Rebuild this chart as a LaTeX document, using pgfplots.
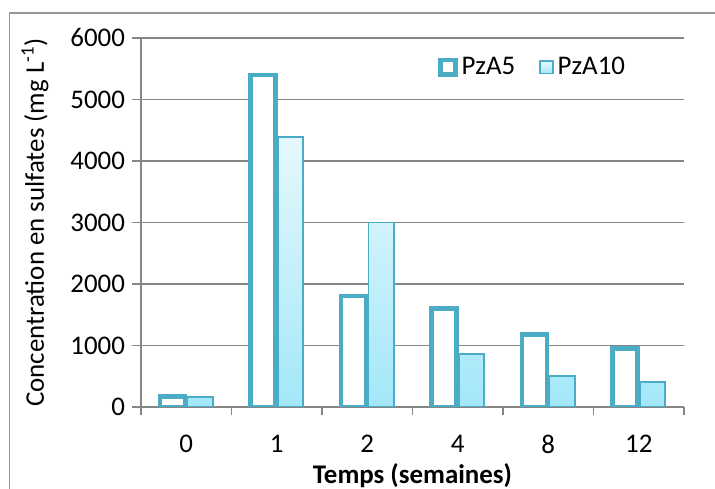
\documentclass[border=0pt]{standalone}
\usepackage{fontspec}
\setmainfont{Carlito}
\usepackage{pgfplots}
\pgfplotsset{compat=1.18}
\definecolor{aqua}{RGB}{75,172,198}
\definecolor{gridgray}{RGB}{134,134,134}
\definecolor{frame}{RGB}{150,150,150}
\definecolor{lighttop}{RGB}{230,248,253}
\definecolor{lightbot}{RGB}{163,231,249}
\begin{document}
\begin{tikzpicture}
\useasboundingbox (0,0) rectangle (357.5bp,244.5bp);
\draw[frame, line width=0.6bp] (4.6bp,-10bp) -- (4.6bp,238bp) -- (400bp,238bp);
\begin{axis}[
  at={(70.5bp,41bp)}, anchor=south west,
  scale only axis, width=271.5bp, height=184.5bp,
  font=\fontsize{13.5}{16}\selectfont,
  /pgf/number format/assume math mode=true,
  ybar, bar width=12.6bp,
  xmin=-0.5, xmax=5.5, ymin=0, ymax=6000,
  xtick={0,1,2,3,4,5},
  xticklabels={0,1,2,4,8,12},
  xticklabel style={yshift=-6bp},
  minor xtick={-0.5,0.5,1.5,2.5,3.5,4.5,5.5},
  major x tick style={draw=none},
  minor x tick style={gridgray, line width=0.75bp},
  minor tick length=4bp,
  ytick={0,1000,...,6000},
  yticklabel style={/pgf/number format/1000 sep={}},
  y tick style={gridgray, line width=0.75bp},
  major tick length=4.5bp,
  tick align=outside,
  axis x line*=bottom, axis y line*=left,
  axis line style={gridgray, line width=0.75bp},
  ymajorgrids, grid style={gridgray, line width=0.75bp},
  every axis x label/.style={at={(axis description cs:0.5,0)}, anchor=center, yshift=-34.5bp, font=\fontsize{13.5}{16}\selectfont\bfseries},
  every axis y label/.style={at={(axis description cs:0,0.5)}, xshift=-53bp, rotate=90, anchor=center, font=\fontsize{13.5}{16}\selectfont},
  xlabel={Temps (semaines)},
  ylabel={Concentration en sulfates (mg L\textsuperscript{-1})},
  legend columns=2,
  legend style={at={(axis description cs:0.547,0.921)}, anchor=west, draw=none, fill=none, inner sep=0pt,
    font=\fontsize{13.5}{16}\selectfont,
    /tikz/every even column/.append style={column sep=10bp}},
]
\addplot[draw=aqua, fill=white, line width=2.15bp, bar shift=-6.9bp,
  legend image code/.code={\draw[draw=aqua, fill=white, line width=2.15bp] (0bp,-3.7bp) rectangle (7.4bp,3.7bp);}]
  coordinates {(0,170) (1,5400) (2,1800) (3,1600) (4,1180) (5,950)};
\addlegendentry{PzA5}
\addplot[draw=aqua, top color=lighttop, bottom color=lightbot, line width=0.85bp, bar shift=6.9bp,
  legend image code/.code={\draw[draw=aqua, top color=lighttop, bottom color=lightbot, line width=0.85bp] (0bp,-3.2bp) rectangle (6.4bp,3.2bp);}]
  coordinates {(0,160) (1,4390) (2,3000) (3,860) (4,500) (5,410)};
\addlegendentry{PzA10}
\end{axis}
\end{tikzpicture}
\end{document}
